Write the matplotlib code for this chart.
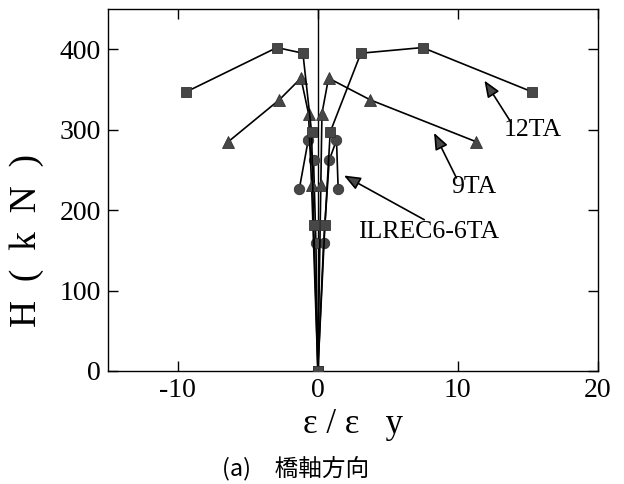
import matplotlib
matplotlib.use("Agg")
import matplotlib.pyplot as plt

plt.rcParams["axes.unicode_minus"] = False

# 12TA (squares), left / right gauges
sq_left_x = [0, -0.3, -0.45, -1.07, -2.93, -9.4]
sq_left_h = [0, 181, 297, 395, 402, 347]
sq_right_x = [0, 0.5, 0.88, 3.07, 7.48, 15.3]
sq_right_h = [0, 181, 297, 395, 402, 347]

# 9TA (triangles)
tri_left_x = [0, -0.45, -0.67, -1.21, -2.76, -6.4]
tri_left_h = [0, 231, 320, 364, 337, 285]
tri_right_x = [0, 0.21, 0.29, 0.76, 3.74, 11.3]
tri_right_h = [0, 231, 320, 364, 337, 285]

# ILREC6-6TA (circles)
cir_left_x = [0, -0.14, -0.31, -0.69, -1.33]
cir_left_h = [0, 159, 262, 287, 226]
cir_right_x = [0, 0.41, 0.81, 1.33, 1.45]
cir_right_h = [0, 159, 262, 287, 226]

x_ticks = [-10, 0, 10, 20]
y_ticks = [0, 100, 200, 300, 400]

serif = "Liberation Serif"
mcol = "#474747"

fig = plt.figure(figsize=(6.24, 4.84), dpi=100)
ax = fig.add_axes([0.173, 0.2335, 0.785, 0.748])

ax.axvline(0, color="black", lw=1.0, zorder=1)

def branch(xs, hs, marker, ms):
    ax.plot(xs, hs, color="black", lw=1.2, marker=marker, ms=ms,
            mfc=mcol, mec="#333333", mew=0.6, zorder=3)

branch(cir_left_x, cir_left_h, "o", 7.5)
branch(cir_right_x, cir_right_h, "o", 7.5)
branch(tri_left_x, tri_left_h, "^", 8.5)
branch(tri_right_x, tri_right_h, "^", 8.5)
branch(sq_left_x, sq_left_h, "s", 7.5)
branch(sq_right_x, sq_right_h, "s", 7.5)

ax.set_xlim(-15, 20)
ax.set_ylim(0, 450)
ax.set_xticks(x_ticks)
ax.set_yticks(y_ticks)
ax.tick_params(direction="in", length=7, width=1, top=True, right=True,
               labelsize=20, pad=5)
for lab in ax.get_xticklabels() + ax.get_yticklabels():
    lab.set_fontfamily(serif)
for s in ax.spines.values():
    s.set_linewidth(1.0)

ax.set_xlabel("ε / ε   y", fontsize=25, fontfamily=serif, labelpad=4)
ax.set_ylabel("H  (  k  N  )", fontsize=27, fontfamily=serif)
ax.yaxis.set_label_coords(-0.13, 0.36)

arrow = dict(arrowstyle="-|>,head_length=1.0,head_width=0.4",
             color="black", lw=1.2, fc=mcol, shrinkA=0, shrinkB=0)
ax.annotate("", xy=(11.9, 361), xytext=(13.8, 309), arrowprops=arrow)
ax.text(13.3, 299, "12TA", fontsize=18.5, fontfamily=serif, va="center")
ax.annotate("", xy=(8.3, 296), xytext=(9.9, 240), arrowprops=arrow)
ax.text(9.5, 229, "9TA", fontsize=18.5, fontfamily=serif, va="center")
ax.annotate("", xy=(1.86, 243), xytext=(7.6, 188), arrowprops=arrow)
ax.text(2.9, 173, "ILREC6-6TA", fontsize=18.5, fontfamily=serif, va="center")

fig.text(0.473, 0.033, "(a)　橋軸方向", fontsize=17, ha="center", va="center",
         family=["Noto Sans CJK JP", "DejaVu Sans"])

fig.savefig("out.png", dpi=100)
